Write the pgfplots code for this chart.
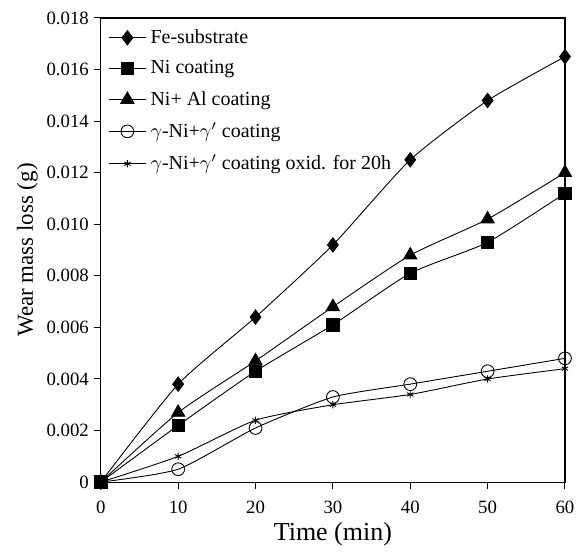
\documentclass[border=0pt]{standalone}
\usepackage{fontspec}
\setmainfont{Liberation Serif}
\setsansfont{Liberation Serif}
\usepackage{pgfplots}
\pgfplotsset{compat=1.18}
\begin{document}
\begin{tikzpicture}
\begin{axis}[
  scale only axis,
  width=232.5pt, height=232.5pt,
  xmin=0, xmax=60, ymin=0, ymax=0.018,
  scaled y ticks=false,
  axis line style={line width=0.6pt},
  xtick={0,10,20,30,40,50,60},
  ytick={0,0.002,0.004,0.006,0.008,0.010,0.012,0.014,0.016,0.018},
  yticklabels={0,0.002,0.004,0.006,0.008,0.010,0.012,0.014,0.016,0.018},
  xticklabels={0,10,20,30,40,50,60},
  tick align=outside,
  xtick pos=bottom, ytick pos=left,
  major tick length=3.5pt,
  tick style={line width=0.5pt, black},
  tick label style={font=\rmfamily\fontsize{9.4}{11}\selectfont},
  yticklabel style={xshift=1pt},
  xticklabel style={yshift=-2.5pt},
  xlabel={Time (min)},
  ylabel={Wear mass loss (g)},
  xlabel style={font=\rmfamily\fontsize{13}{15}\selectfont, yshift=2.5pt},
  ylabel style={font=\rmfamily\fontsize{11.5}{13}\selectfont, yshift=-2.5pt},
  legend cell align=left,
  legend style={at={(0.0,1.0)}, anchor=north west, draw=none, fill=none, xshift=1.5pt, yshift=0.5pt,
    font=\rmfamily\fontsize{10}{12}\selectfont, row sep=3.2pt, inner xsep=2pt, inner ysep=4pt},
  legend image code/.code={\draw[#1, mark repeat=2, mark phase=2] plot coordinates {(0cm,0cm)(0.33cm,0cm)(0.66cm,0cm)};},
  every axis plot/.append style={line width=0.45pt, black, smooth, tension=0.35},
]
\addplot[mark=diamond*, mark size=3.6pt, mark options={solid, fill=black}] coordinates {
 (0,0) (10,0.0038) (20,0.0064) (30,0.0092) (40,0.0125) (50,0.0148) (60,0.0165)};
\addlegendentry{Fe-substrate}
\addplot[mark=square*, mark size=3.1pt, mark options={solid, fill=black}] coordinates {
 (0,0) (10,0.0022) (20,0.0043) (30,0.0061) (40,0.0081) (50,0.0093) (60,0.0112)};
\addlegendentry{Ni coating}
\addplot[mark=triangle*, mark size=3.8pt, mark options={solid, fill=black}] coordinates {
 (0,0) (10,0.0027) (20,0.0047) (30,0.0068) (40,0.0088) (50,0.0102) (60,0.0120)};
\addlegendentry{Ni+ Al coating}
\addplot[mark=o, mark size=3.2pt, mark options={solid, fill=white}] coordinates {
 (0,0) (10,0.0005) (20,0.0021) (30,0.0033) (40,0.0038) (50,0.0043) (60,0.0048)};
\addlegendentry{$\gamma$-Ni+$\gamma'$ coating}
\addplot[mark=asterisk, mark size=1.8pt, mark options={solid}] coordinates {
 (0,0) (10,0.0010) (20,0.0024) (30,0.0030) (40,0.0034) (50,0.0040) (60,0.0044)};
\addlegendentry{$\gamma$-Ni+$\gamma'$ coating oxid. for 20h}
\end{axis}
\path (current axis.south west) ++(-50.5pt,-30pt) (current axis.north east) ++(7.5pt,9pt);
\end{tikzpicture}
\end{document}
